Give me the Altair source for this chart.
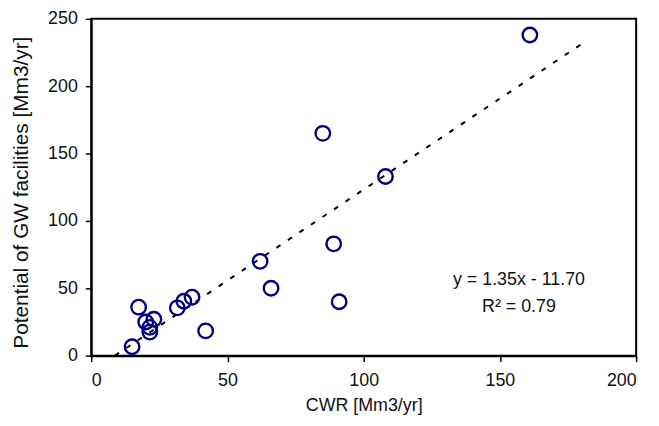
import altair as alt
import pandas as pd

# Data
cwr = [161, 85, 108, 89, 62, 66, 91, 15, 17.4, 42, 31.6, 34, 37, 20, 23, 21.5, 21.5]
gw = [238, 165, 133, 83, 70, 50, 40, 6.6, 36, 18.4, 35.5, 40.4, 43.4, 25, 27, 21, 17.5]

slope = 1.35
intercept = -11.70
trend_end_x = 180
eq_lines = ["y = 1.35x - 11.70", "R\u00b2 = 0.79"]
eq_x = [157, 157]
eq_y = [56, 36]

x_ticks = [0, 50, 100, 150, 200]
y_ticks = [0, 50, 100, 150, 200, 250]

pts = pd.DataFrame({"CWR": cwr, "GW": gw})
x0 = -intercept / slope
trend = pd.DataFrame({"CWR": [x0, trend_end_x],
                      "GW": [slope * x0 + intercept, slope * trend_end_x + intercept]})
ann = pd.DataFrame({"x": eq_x, "y": eq_y, "t": eq_lines})

FONT = "Liberation Sans"

xscale = alt.Scale(domain=[0, 200], nice=False, zero=False)
yscale = alt.Scale(domain=[0, 250], nice=False, zero=False)

xaxis = alt.Axis(values=x_ticks, title="CWR [Mm3/yr]", grid=False,
                 labelPadding=10, titleFontSize=18,
                 titleY=50, titleBaseline="middle")
yaxis = alt.Axis(values=y_ticks, title="Potential of GW facilities [Mm3/yr]", grid=False,
                 labelPadding=8, titleFontSize=21,
                 titleX=-70, titleBaseline="middle", titleY=175)

points = alt.Chart(pts).mark_point(
    shape="circle", filled=False, size=215, stroke="#000080", strokeWidth=2.4, opacity=1
).encode(
    x=alt.X("CWR:Q", scale=xscale, axis=xaxis),
    y=alt.Y("GW:Q", scale=yscale, axis=yaxis),
)

line = alt.Chart(trend).mark_line(
    color="black", strokeWidth=2, strokeDash=[5, 9]
).encode(
    x=alt.X("CWR:Q", scale=xscale),
    y=alt.Y("GW:Q", scale=yscale),
)

text = alt.Chart(ann).mark_text(
    font=FONT, fontSize=18, color="#111111", align="center", baseline="middle"
).encode(
    x=alt.X("x:Q", scale=xscale),
    y=alt.Y("y:Q", scale=yscale),
    text="t:N",
)

chart = alt.layer(line, points, text).properties(
    width=550, height=340,
    autosize=alt.AutoSizeParams(type="none"),
    padding={"left": 84, "top": 9, "right": 15, "bottom": 61},
    background="white",
).configure_view(
    stroke="black", strokeWidth=2
).configure_axis(
    domainColor="black", domainWidth=2, tickColor="black", tickWidth=1.5, tickSize=6,
    labelFont=FONT, labelFontSize=18, labelColor="#111111",
    titleFont=FONT, titleColor="#111111", titleFontWeight="normal",
)

chart.save("out.html", embed_options={"renderer": "svg", "actions": False})
